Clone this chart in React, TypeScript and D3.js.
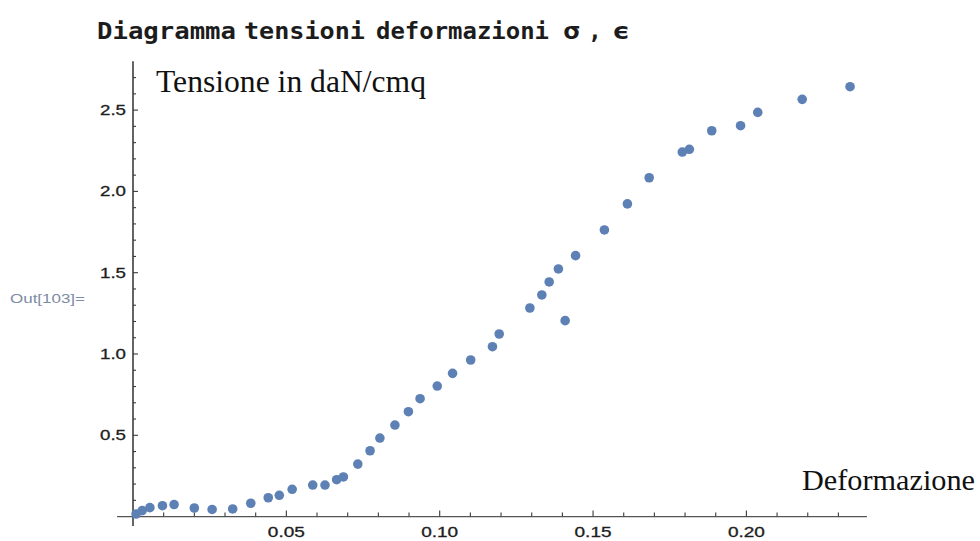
import { useEffect, useRef } from "react";
import * as d3 from "d3";

// deformazione (strain) and tensione (stress, daN/cmq)
const deformazione = [
  0.001, 0.003, 0.0055, 0.0096, 0.0134, 0.02, 0.0258, 0.0325, 0.0384, 0.0441,
  0.0477, 0.0519, 0.0586, 0.0626, 0.0664, 0.0686, 0.0733, 0.0773, 0.0805,
  0.0854, 0.0898, 0.0936, 0.0992, 0.1042, 0.1101, 0.1172, 0.1194, 0.1294,
  0.1333, 0.1357, 0.1387, 0.1409, 0.1443, 0.1537, 0.1612, 0.1683, 0.1791,
  0.1814, 0.1887, 0.1981, 0.2037, 0.2182, 0.2338,
];
const tensione = [
  0.016, 0.037, 0.055, 0.067, 0.074, 0.053, 0.044, 0.047, 0.082, 0.116,
  0.131, 0.168, 0.194, 0.194, 0.227, 0.244, 0.323, 0.405, 0.483,
  0.563, 0.645, 0.725, 0.803, 0.881, 0.963, 1.045, 1.123, 1.283,
  1.363, 1.443, 1.523, 1.205, 1.605, 1.763, 1.923, 2.084, 2.242,
  2.259, 2.373, 2.404, 2.486, 2.566, 2.644,
];

const xMajor = [0.05, 0.1, 0.15, 0.2];
const xLabels = ["0.05", "0.10", "0.15", "0.20"];
const yMajor = [0.5, 1.0, 1.5, 2.0, 2.5];
const yLabels = ["0.5", "1.0", "1.5", "2.0", "2.5"];

// title words, placed one by one like the Mathematica output
const titleWords = ["Diagramma", "tensioni", "deformazioni", "\u03c3", ",", "\u03f5"];
const titleX = [97, 244, 376, 563, 588, 612];
const titleW = [139, 121, 173, 17, 0, 18];

export default function App() {
  const svgRef = useRef<SVGSVGElement | null>(null);
  const width = 980;
  const height = 541;

  useEffect(() => {
    const svg = d3.select(svgRef.current);
    svg.selectAll("*").remove();

    const x = d3.scaleLinear().domain([0, 0.2]).range([133, 746.4]);
    const y = d3.scaleLinear().domain([0, 2.5]).range([516.6, 110.1]);

    // title
    svg.append("text")
      .attr("y", 39)
      .style("font-family", "'DejaVu Sans Mono', monospace")
      .style("font-weight", "bold")
      .style("font-size", "23px")
      .style("fill", "#1c1c1c")
      .selectAll("tspan")
      .data(titleWords)
      .join("tspan")
      .attr("x", (_, i) => titleX[i])
      .attr("textLength", (_, i) => (titleW[i] > 0 ? titleW[i] : null))
      .attr("lengthAdjust", "spacingAndGlyphs")
      .text((d) => d);

    svg.append("text")
      .attr("x", 10).attr("y", 303)
      .attr("textLength", 75).attr("lengthAdjust", "spacingAndGlyphs")
      .style("font-family", "'Liberation Sans', Arial, sans-serif")
      .style("font-size", "12px")
      .style("fill", "#7d8ba3")
      .text("Out[103]=");

    const axisColor = "#3a3a3a";

    // x axis
    svg.append("line")
      .attr("x1", x(-0.0052)).attr("x2", x(0.2393))
      .attr("y1", y(0)).attr("y2", y(0))
      .attr("stroke", "#555").attr("stroke-width", 1.4);
    const xMinor = d3.range(1, 24).map((i) => i / 100);
    svg.append("g").selectAll("line")
      .data(xMinor)
      .join("line")
      .attr("x1", (d) => x(d)).attr("x2", (d) => x(d))
      .attr("y1", y(0))
      .attr("y2", (d) => y(0) - (Math.abs(d * 20 - Math.round(d * 20)) < 1e-6 ? 6 : 4))
      .attr("stroke", axisColor).attr("stroke-width", 1.1);
    svg.append("g").selectAll("text")
      .data(xMajor)
      .join("text")
      .attr("x", (d) => x(d)).attr("y", 537)
      .attr("text-anchor", "middle")
      .attr("textLength", 37).attr("lengthAdjust", "spacingAndGlyphs")
      .style("font-family", "'Liberation Sans', Arial, sans-serif")
      .style("font-size", "14px")
      .style("fill", "#1e1e1e")
      .style("stroke", "#1e1e1e").style("stroke-width", 0.3)
      .text((_, i) => xLabels[i]);

    // y axis
    svg.append("line")
      .attr("x1", x(0)).attr("x2", x(0))
      .attr("y1", y(2.8)).attr("y2", y(-0.058))
      .attr("stroke", "#222").attr("stroke-width", 1.4);
    const yMinor = d3.range(1, 28).map((i) => i / 10);
    svg.append("g").selectAll("line")
      .data(yMinor)
      .join("line")
      .attr("y1", (d) => y(d)).attr("y2", (d) => y(d))
      .attr("x1", x(0))
      .attr("x2", (d) => x(0) + (Math.abs(d * 2 - Math.round(d * 2)) < 1e-6 ? 5 : 3))
      .attr("stroke", axisColor).attr("stroke-width", 1.1);
    svg.append("g").selectAll("text")
      .data(yMajor)
      .join("text")
      .attr("x", 126).attr("y", (d) => y(d) + 5)
      .attr("text-anchor", "end")
      .attr("textLength", 26).attr("lengthAdjust", "spacingAndGlyphs")
      .style("font-family", "'Liberation Sans', Arial, sans-serif")
      .style("font-size", "14px")
      .style("fill", "#1e1e1e")
      .style("stroke", "#1e1e1e").style("stroke-width", 0.3)
      .text((_, i) => yLabels[i]);

    // axis labels
    svg.append("text")
      .attr("x", 156).attr("y", 92)
      .attr("textLength", 270).attr("lengthAdjust", "spacingAndGlyphs")
      .style("font-family", "'Liberation Serif', 'Times New Roman', serif")
      .style("font-size", "31px")
      .style("fill", "#111")
      .text("Tensione in daN/cmq");
    svg.append("text")
      .attr("x", 802).attr("y", 490)
      .attr("textLength", 173).attr("lengthAdjust", "spacingAndGlyphs")
      .style("font-family", "'Liberation Serif', 'Times New Roman', serif")
      .style("font-size", "29px")
      .style("fill", "#111")
      .text("Deformazione");

    // points
    svg.append("g").selectAll("circle")
      .data(deformazione.map((d, i) => [d, tensione[i]] as [number, number]))
      .join("circle")
      .attr("cx", (d) => x(d[0]))
      .attr("cy", (d) => y(d[1]))
      .attr("r", 4.8)
      .attr("fill", "#5e81b5");
  }, []);

  return (
    <svg
      ref={svgRef}
      width={width}
      height={height}
      style={{ position: "absolute", left: 0, top: 0, background: "#fff" }}
    />
  );
}
